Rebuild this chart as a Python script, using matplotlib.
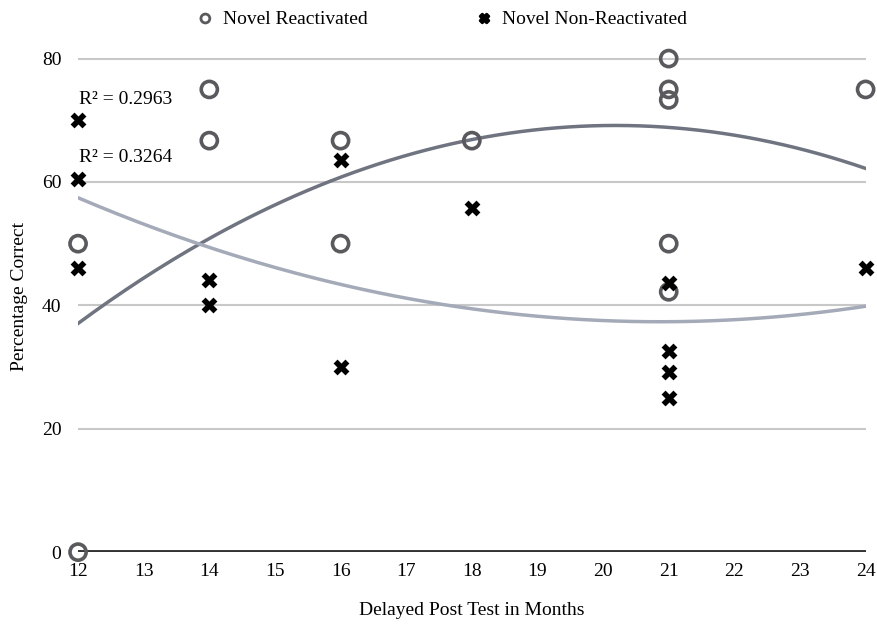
import numpy as np
import matplotlib
matplotlib.use('Agg')
import matplotlib.pyplot as plt

plt.rcParams['font.family'] = 'Liberation Serif'
plt.rcParams['font.size'] = 14

# data
react_x = [12, 12, 14, 14, 16, 16, 18, 21, 21, 21, 21, 21, 24]
react_y = [50, 0, 75, 66.7, 66.7, 50, 66.7, 80, 75, 73.3, 50, 42.2, 75]
nonreact_x = [12, 12, 12, 14, 14, 16, 16, 18, 21, 21, 21, 21, 24]
nonreact_y = [70, 60.5, 46.1, 44.1, 40, 63.6, 30, 55.8, 43.6, 32.6, 29.2, 25, 46.1]
r2_labels = ['R² = 0.2963', 'R² = 0.3264']
x_ticks = list(range(12, 25))
y_ticks = [0, 20, 40, 60, 80]

fig = plt.figure(figsize=(8.77, 6.26), dpi=100)
ax = fig.add_axes([0.089, 0.118, 0.898, 0.818])

# grid lines
for yt in y_ticks[1:]:
    ax.axhline(yt, color='#c8c8c8', linewidth=1.5, zorder=0)
ax.axhline(0, color='#333333', linewidth=2.8, zorder=1)

# polynomial trend lines
xs = np.linspace(12, 24, 200)
p_r = np.polyfit(react_x, react_y, 2)
p_n = np.polyfit(nonreact_x, nonreact_y, 2)
ax.plot(xs, np.polyval(p_r, xs), color='#6f7480', linewidth=2.5, zorder=2)
ax.plot(xs, np.polyval(p_n, xs), color='#a4aab8', linewidth=2.5, zorder=2)

ax.scatter(react_x, react_y, s=135, facecolors='none', edgecolors='#5a5a5e',
           linewidths=2.6, marker='o', zorder=3, clip_on=False, label='Novel Reactivated')
ax.scatter(nonreact_x, nonreact_y, s=130, color='black', marker='X',
           linewidths=0, zorder=4, clip_on=False, label='Novel Non-Reactivated')

ax.text(12.02, 73.3, r2_labels[0], fontsize=14, va='center', ha='left')
ax.text(12.02, 63.9, r2_labels[1], fontsize=14, va='center', ha='left')

ax.set_xlim(12, 24)
ax.set_ylim(0, 83)
ax.set_xticks(x_ticks)
ax.set_yticks(y_ticks)
ax.tick_params(length=0, labelsize=14)
ax.tick_params(axis='y', pad=12)
ax.tick_params(axis='x', pad=8)
for s in ax.spines.values():
    s.set_visible(False)

ax.set_xlabel('Delayed Post Test in Months', fontsize=14, labelpad=16)
ax.set_ylabel('Percentage Correct', fontsize=14, labelpad=10)

h, l = ax.get_legend_handles_labels()
leg = fig.legend(h, l, loc='upper center', bbox_to_anchor=(0.502, 1.012), ncol=2,
                 frameon=False, fontsize=14, columnspacing=5.4, handletextpad=0.3,
                 handlelength=1.2, markerscale=0.55)
for hd in leg.legend_handles:
    hd.set_linewidth(2.0)

fig.savefig('out.png', dpi=100)
